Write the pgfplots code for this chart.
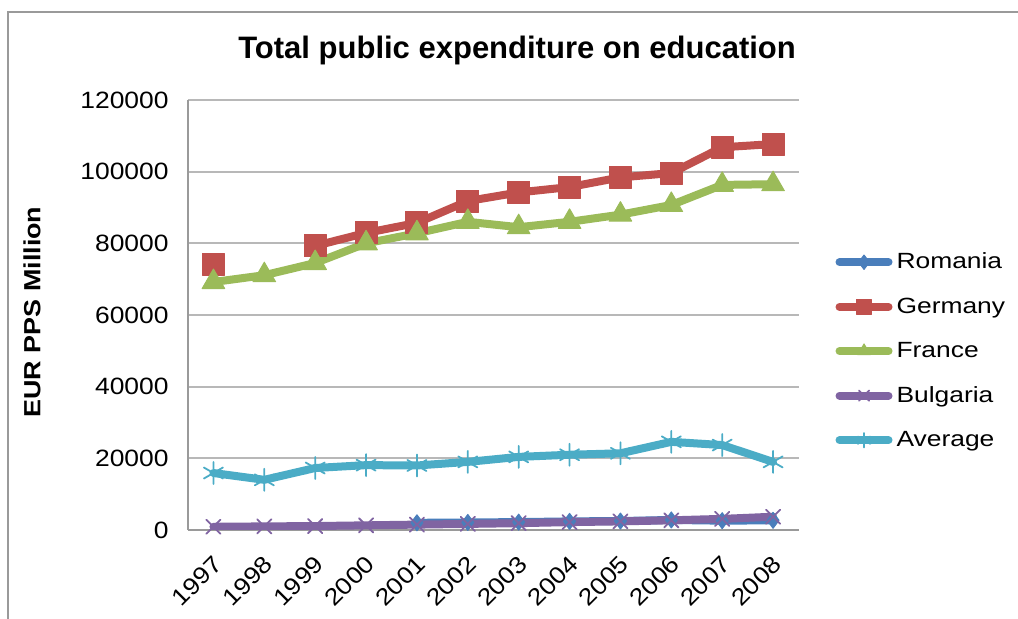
\documentclass[border=0pt]{standalone}
\usepackage{pgfplots}
\pgfplotsset{compat=1.18}
\usepackage{fontspec}
\setmainfont{Liberation Sans}
\newfontfamily\tickfont{Liberation Sans}[FakeStretch=1.12]
\newfontfamily\legfont{Liberation Sans}[FakeStretch=1.2]
\newfontfamily\labfont{Liberation Sans Bold}[FakeStretch=1.15]
\definecolor{cRom}{HTML}{4A7EBB}
\definecolor{cGer}{HTML}{C0504D}
\definecolor{cFra}{HTML}{9BBB59}
\definecolor{cBul}{HTML}{8064A2}
\definecolor{cAvg}{HTML}{4BACC6}
\definecolor{framec}{HTML}{9A9A9A}
\definecolor{gridc}{HTML}{B8B8B8}
\begin{document}
\begin{tikzpicture}
\useasboundingbox (0,0) rectangle (509pt,309.5pt);
\draw[framec, line width=1pt] (4pt,0) -- (4pt,303.5pt) -- (509pt,303.5pt);
\begin{axis}[
  at={(94pt,44.5pt)}, anchor=south west,
  scale only axis, width=305.25pt, height=215pt,
  xmin=1996.5, xmax=2008.5, ymin=0, ymax=120000,
  xtick={1997,...,2008}, ytick={0,20000,...,120000},
  scaled y ticks=false, scaled x ticks=false,
  /pgf/number format/fixed,
  /pgf/number format/1000 sep={},
  /pgf/number format/assume math mode=true,
  axis x line*=bottom, axis y line*=left,
  axis line style={-, draw=framec, line width=0.6pt},
  major tick length=0pt,
  ymajorgrids, grid style={gridc, line width=1pt},
  yticklabel style={font=\tickfont\fontsize{11.8}{14}\selectfont, inner sep=0pt, xshift=-9.5pt},
  xticklabel style={font=\tickfont\fontsize{11.8}{14}\selectfont, rotate=45, anchor=east, inner sep=0pt, xshift=-9pt, yshift=-12.2pt},
  title={Total public expenditure on education},
  title style={font=\bfseries\fontsize{15.5}{18}\selectfont, at={(axis description cs:0.539,1.088)}, anchor=center},
  ylabel={EUR PPS Million},
  ylabel style={font=\labfont\fontsize{11.7}{14}\selectfont, at={(axis description cs:-0.2555,0.507)}, anchor=center},
  legend style={at={(axis description cs:1.06,0.655)}, anchor=north west, draw=none, fill=none,
    font=\legfont\fontsize{11}{13}\selectfont, row sep=9pt, inner sep=0pt,
    /tikz/every even column/.append style={column sep=3pt}},
  legend cell align=left,
  legend image code/.code={\draw[mark repeat=2,mark phase=2,#1] plot coordinates {(1.75pt,0pt) (14pt,0pt) (26.25pt,0pt)};},
  legend image post style={mark size=3.6pt},
  every axis plot/.append style={line width=4pt, line join=round, line cap=round},
]
\addplot[cRom, mark=diamond*, mark size=4pt, mark options={line width=0.5pt, fill=cRom}] coordinates {
 (2001,2000) (2002,2100) (2003,2200) (2004,2400) (2005,2500) (2006,2800) (2007,2600) (2008,2700)};
\addlegendentry{Romania}
\addplot[cGer, mark=square*, mark size=5.5pt, mark options={line width=0.5pt, fill=cGer}] coordinates {
 (1997,74200)};
\addplot[cGer, mark=square*, mark size=5.5pt, mark options={line width=0.5pt, fill=cGer}, forget plot] coordinates {
 (1999,79300) (2000,82900) (2001,85700) (2002,91800) (2003,94200) (2004,95700) (2005,98400) (2006,99600) (2007,106800) (2008,107700)};
\addlegendentry{Germany}
\addplot[cFra, mark=triangle*, mark size=6.5pt, mark options={line width=0.5pt, fill=cFra}] coordinates {
 (1997,69200) (1998,71100) (1999,74500) (2000,80000) (2001,82800) (2002,86000) (2003,84500) (2004,86000) (2005,88000) (2006,90700) (2007,96300) (2008,96500)};
\addlegendentry{France}
\addplot[cBul, mark=x, mark size=5pt, mark options={line width=0.9pt}] coordinates {
 (1997,900) (1998,1000) (1999,1100) (2000,1300) (2001,1500) (2002,1700) (2003,1900) (2004,2200) (2005,2400) (2006,2700) (2007,3100) (2008,3700)};
\addlegendentry{Bulgaria}
\addplot[cAvg, mark=asterisk, mark size=5.5pt, mark options={line width=0.9pt}] coordinates {
 (1997,15900) (1998,14000) (1999,17300) (2000,18100) (2001,18000) (2002,19000) (2003,20400) (2004,21000) (2005,21400) (2006,24600) (2007,23700) (2008,19000)};
\addlegendentry{Average}
\end{axis}
\end{tikzpicture}
\end{document}
